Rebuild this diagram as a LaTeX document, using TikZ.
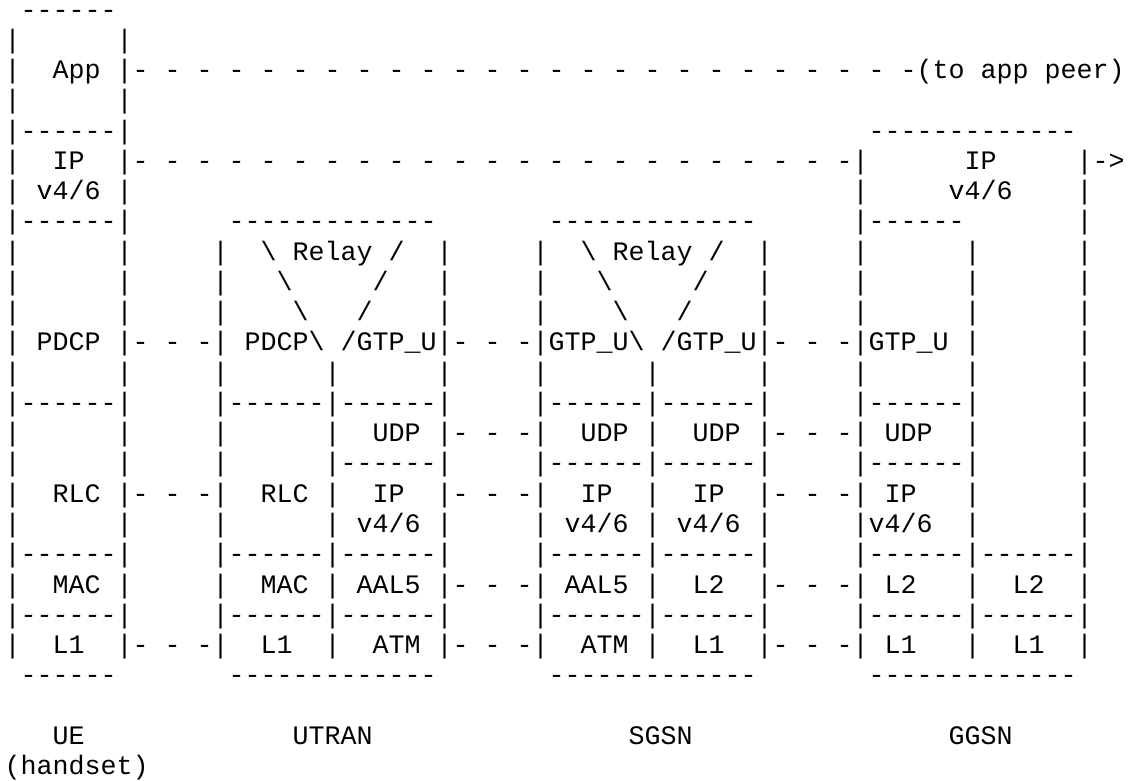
\documentclass[tikz,border=0pt]{standalone}
\usepackage{fontspec}
\setmonofont{Liberation Mono}
\newdimen\cw \cw=16pt
\ExplSyntaxOn
\NewDocumentCommand\srep{mm}{\prg_replicate:nn{#1}{#2}}
\ExplSyntaxOff
\newcommand\sgap[1]{\kern#1\cw\relax}
\newcommand\srun[1]{\srep{#1}{-}}
\newcommand\sdsh{-\sgap1-\sgap1-}
\newcommand\sbsl{\textbackslash}
\newcommand\asciiline[3]{\node[txt] (#1) at (4.7,{761.9-30.26*#2}) {#3};}
\begin{document}
\begin{tikzpicture}[x=1pt,y=1pt,
  txt/.style={anchor=base west,inner sep=0pt,outer sep=0pt,
    font=\ttfamily\fontsize{26.6623}{30}\selectfont}]
\useasboundingbox (0,0) rectangle (1128,780);
\node[txt,text height=11pt] (l0) at (4.7,761.9) {\sgap1\srun6};
\asciiline{l1}{1}{|\sgap6|}
\asciiline{l2}{2}{|\sgap2App\sgap1|\srep{24}{-\sgap1}-(to app peer)}
\asciiline{l3}{3}{|\sgap6|}
\asciiline{l4}{4}{|\srun6|\sgap{46}\srun{13}}
\asciiline{l5}{5}{|\sgap2IP\sgap2|\srep{22}{-\sgap1}-|\sgap6IP\sgap5|->}
\asciiline{l6}{6}{|\sgap1v4/6\sgap1|\sgap{45}|\sgap5v4/6\sgap4|}
\asciiline{l7}{7}{|\srun6|\sgap6\srun{13}\sgap7\srun{13}\sgap6|\srun6\sgap7|}
\asciiline{l8}{8}{|\sgap6|\sgap5|\sgap2\sbsl\sgap1Relay\sgap1/\sgap2|\sgap5|\sgap2\sbsl\sgap1Relay\sgap1/\sgap2|\sgap5|\sgap6|\sgap6|}
\asciiline{l9}{9}{|\sgap6|\sgap5|\sgap3\sbsl\sgap5/\sgap3|\sgap5|\sgap3\sbsl\sgap5/\sgap3|\sgap5|\sgap6|\sgap6|}
\asciiline{l10}{10}{|\sgap6|\sgap5|\sgap4\sbsl\sgap3/\sgap4|\sgap5|\sgap4\sbsl\sgap3/\sgap4|\sgap5|\sgap6|\sgap6|}
\asciiline{l11}{11}{|\sgap1PDCP\sgap1|\sdsh|\sgap1PDCP\sbsl\sgap1/GTP\_U|\sdsh|GTP\_U\sbsl\sgap1/GTP\_U|\sdsh|GTP\_U\sgap1|\sgap6|}
\asciiline{l12}{12}{|\sgap6|\sgap5|\sgap6|\sgap6|\sgap5|\sgap6|\sgap6|\sgap5|\sgap6|\sgap6|}
\asciiline{l13}{13}{|\srun6|\sgap5|\srun6|\srun6|\sgap5|\srun6|\srun6|\sgap5|\srun6|\sgap6|}
\asciiline{l14}{14}{|\sgap6|\sgap5|\sgap6|\sgap2UDP\sgap1|\sdsh|\sgap2UDP\sgap1|\sgap2UDP\sgap1|\sdsh|\sgap1UDP\sgap2|\sgap6|}
\asciiline{l15}{15}{|\sgap6|\sgap5|\sgap6|\srun6|\sgap5|\srun6|\srun6|\sgap5|\srun6|\sgap6|}
\asciiline{l16}{16}{|\sgap2RLC\sgap1|\sdsh|\sgap2RLC\sgap1|\sgap2IP\sgap2|\sdsh|\sgap2IP\sgap2|\sgap2IP\sgap2|\sdsh|\sgap1IP\sgap3|\sgap6|}
\asciiline{l17}{17}{|\sgap6|\sgap5|\sgap6|\sgap1v4/6\sgap1|\sgap5|\sgap1v4/6\sgap1|\sgap1v4/6\sgap1|\sgap5|v4/6\sgap2|\sgap6|}
\asciiline{l18}{18}{|\srun6|\sgap5|\srun6|\srun6|\sgap5|\srun6|\srun6|\sgap5|\srun6|\srun6|}
\asciiline{l19}{19}{|\sgap2MAC\sgap1|\sgap5|\sgap2MAC\sgap1|\sgap1AAL5\sgap1|\sdsh|\sgap1AAL5\sgap1|\sgap2L2\sgap2|\sdsh|\sgap1L2\sgap3|\sgap2L2\sgap2|}
\asciiline{l20}{20}{|\srun6|\sgap5|\srun6|\srun6|\sgap5|\srun6|\srun6|\sgap5|\srun6|\srun6|}
\asciiline{l21}{21}{|\sgap2L1\sgap2|\sdsh|\sgap2L1\sgap2|\sgap2ATM\sgap1|\sdsh|\sgap2ATM\sgap1|\sgap2L1\sgap2|\sdsh|\sgap1L1\sgap3|\sgap2L1\sgap2|}
\asciiline{l22}{22}{\sgap1\srun6\sgap7\srun{13}\sgap7\srun{13}\sgap7\srun{13}}
\asciiline{l24}{24}{\sgap3UE\sgap{13}UTRAN\sgap{16}SGSN\sgap{16}GGSN}
\asciiline{l25}{25}{(handset)}
\end{tikzpicture}
\end{document}
